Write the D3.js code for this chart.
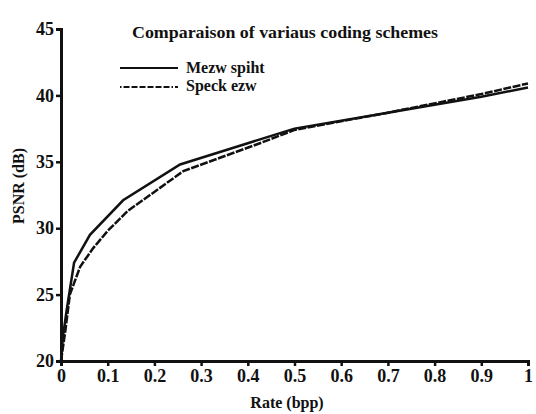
<!DOCTYPE html>
<html lang="en">
<head>
    <meta charset="UTF-8" />
    <title>Comparaison of variaus coding schemes</title>
    <script src="https://d3js.org/d3.v7.min.js"></script>
    <style>
        body { margin: 0; background: #fff; }
        svg text { font-family: "Liberation Serif", "DejaVu Serif", serif; font-weight: bold; fill: #111; }
    </style>
</head>
<body>
    <script>
        // Data
        var mezwRate = [0, 0.004, 0.012, 0.028, 0.062, 0.133, 0.255, 0.4, 0.5, 0.7, 0.9, 1.0];
        var mezwPsnr = [20, 21.8, 23.8, 27.4, 29.5, 32.1, 34.8, 36.4, 37.5, 38.7, 39.9, 40.6];
        var speckRate = [0, 0.009, 0.019, 0.041, 0.069, 0.1, 0.143, 0.262, 0.426, 0.5, 0.7, 0.9, 1.0];
        var speckPsnr = [20, 22.2, 25.0, 27.1, 28.5, 29.8, 31.3, 34.3, 36.4, 37.4, 38.7, 40.1, 40.9];
        var xTicks = [0, 0.1, 0.2, 0.3, 0.4, 0.5, 0.6, 0.7, 0.8, 0.9, 1];
        var yTicks = [20, 25, 30, 35, 40, 45];
        var seriesNames = ["Mezw spiht", "Speck ezw"];

        var w = 536, h = 414;
        var plotLeft = 61, plotRight = 528, plotTop = 29, plotBottom = 361;
        var serif = '"Liberation Serif", "DejaVu Serif", serif';

        var svg = d3.select("body").append("svg")
            .attr("width", w)
            .attr("height", h);

        var xScale = d3.scaleLinear().domain([0, 1]).range([plotLeft, plotRight]);
        var yScale = d3.scaleLinear().domain([20, 45]).range([plotBottom, plotTop]);

        // X axis
        var gx = svg.append("g")
            .attr("transform", "translate(0," + plotBottom + ")")
            .call(d3.axisBottom(xScale).tickValues(xTicks).tickSize(5).tickPadding(3)
                .tickFormat(function (d) { return d === 0 ? "0" : d === 1 ? "1" : d3.format(".1f")(d); }));
        gx.select(".domain").attr("stroke", "#111").attr("stroke-width", 3);
        gx.selectAll(".tick line").attr("stroke", "#111").attr("stroke-width", 2.5);
        gx.selectAll(".tick text")
            .style("font-family", serif)
            .style("font-weight", "bold")
            .style("font-size", "18px")
            .attr("fill", "#111");

        // Y axis
        var gy = svg.append("g")
            .attr("transform", "translate(" + plotLeft + ",0)")
            .call(d3.axisLeft(yScale).tickValues(yTicks).tickSize(5).tickPadding(2));
        gy.select(".domain").attr("stroke", "#111").attr("stroke-width", 3);
        gy.selectAll(".tick line").attr("stroke", "#111").attr("stroke-width", 2.5);
        gy.selectAll(".tick text")
            .style("font-family", serif)
            .style("font-weight", "bold")
            .style("font-size", "18px")
            .attr("fill", "#111");

        // Axis titles
        svg.append("text")
            .attr("text-anchor", "middle")
            .attr("x", 287)
            .attr("y", 408)
            .style("font-size", "16px")
            .text("Rate (bpp)");

        svg.append("text")
            .attr("text-anchor", "middle")
            .attr("transform", "rotate(-90)")
            .attr("x", -186)
            .attr("y", 24)
            .style("font-size", "16px")
            .text("PSNR (dB)");

        // Curves
        var line = d3.line()
            .x(function (d) { return xScale(d[0]); })
            .y(function (d) { return yScale(d[1]); });

        var mezw = d3.zip(mezwRate, mezwPsnr);
        var speck = d3.zip(speckRate, speckPsnr);

        svg.append("path")
            .datum(speck)
            .attr("d", line)
            .attr("fill", "none")
            .attr("stroke", "#111")
            .attr("stroke-width", 2.5)
            .attr("stroke-dasharray", "8,1.5");

        svg.append("path")
            .datum(mezw)
            .attr("d", line)
            .attr("fill", "none")
            .attr("stroke", "#111")
            .attr("stroke-width", 2.5);

        // Title and legend
        svg.append("text")
            .attr("x", 132)
            .attr("y", 38)
            .style("font-size", "16px")
            .attr("textLength", 306)
            .attr("lengthAdjust", "spacingAndGlyphs")
            .text("Comparaison of variaus coding schemes");

        var legend = svg.append("g");
        legend.append("line")
            .attr("x1", 120).attr("x2", 178)
            .attr("y1", 68).attr("y2", 68)
            .attr("stroke", "#111").attr("stroke-width", 1.8);
        legend.append("line")
            .attr("x1", 120).attr("x2", 178)
            .attr("y1", 87).attr("y2", 87)
            .attr("stroke", "#111").attr("stroke-width", 1.8)
            .attr("stroke-dasharray", "1.5,2,6,2,6,2,6,2,6,2,6,2,6,2");
        legend.append("text")
            .attr("x", 186).attr("y", 73)
            .style("font-size", "16px")
            .text(seriesNames[0]);
        legend.append("text")
            .attr("x", 186).attr("y", 91)
            .style("font-size", "16px")
            .text(seriesNames[1]);
    </script>
</body>
</html>
